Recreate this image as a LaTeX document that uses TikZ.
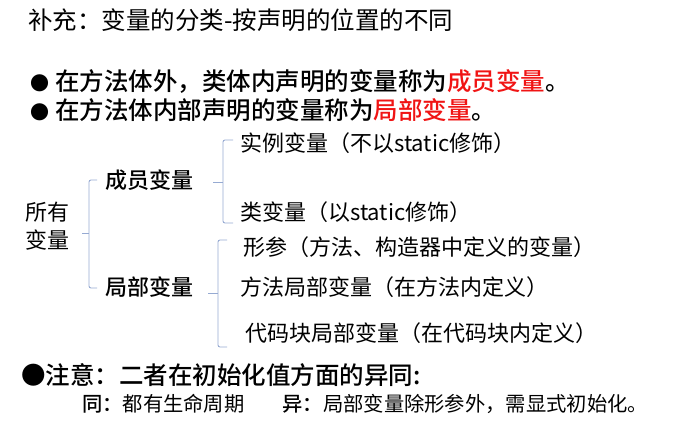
\documentclass[tikz,border=0pt]{standalone}
\usepackage{fontspec}
\setmainfont{Noto Sans CJK SC}[BoldFont={Noto Sans CJK SC Medium}]
\definecolor{braceblue}{RGB}{150,170,210}
\definecolor{keyred}{RGB}{240,20,20}
\begin{document}
\begin{tikzpicture}[x=1pt, y=-1pt,
      every node/.style = {anchor=west, inner sep=0pt},
      head/.style = {font=\fontsize{24.5}{28}\selectfont},
      bold/.style = {font=\fontsize{24.5}{28}\selectfont\bfseries},
      item/.style = {font=\fontsize{22}{28}\selectfont},
      group/.style = {font=\fontsize{22}{28}\selectfont\bfseries},
      foot/.style = {font=\fontsize{20.3}{24}\selectfont},
      brace/.style = {draw=braceblue, line width=0.9pt, rounded corners=2pt}]
  \useasboundingbox (0,0) rectangle (697,430);
  \node[head] (title) at (28,20) {补充：变量的分类-按声明的位置的不同};
  \node[bold] (decl1) at (30,82) {{\fontsize{19}{19}\selectfont●}\hspace{6pt}在方法体外，类体内声明的变量称为\textcolor{keyred}{成员变量}。};
  \node[bold] (decl2) at (30,110) {{\fontsize{19}{19}\selectfont●}\hspace{6pt}在方法体内部声明的变量称为\textcolor{keyred}{局部变量}。};
  \node[item, align=left] (all) at (25,226) {所有\\变量};
  \node[group] (member) at (105,180) {成员变量};
  \node[group] (local) at (105,287) {局部变量};
  \node[item] (inst) at (240,143) {实例变量（不以static修饰）};
  \node[item] (cls) at (240,212) {类变量（以static修饰）};
  \node[item] (param) at (243,247) {形参（方法、构造器中定义的变量）};
  \node[item] (mlocal) at (240,287) {方法局部变量（在方法内定义）};
  \node[item] (block) at (245,333) {代码块局部变量（在代码块内定义）};
  \node[bold] (note) at (21,375) {●注意：二者在初始化值方面的异同:};
  \node[foot] (diff) at (82,404) {\textbf{同：}都有生命周期\hspace{38pt}\textbf{异：}局部变量除形参外，需显式初始化。};
  % brackets
  \draw[brace] (97,180) -- (89,180) -- (89,288) -- (97,288);
  \draw[brace] (82,233) -- (89,233);
  \draw[brace] (233,140) -- (223,140) -- (223,223) -- (233,223);
  \draw[brace] (213,182) -- (223,182);
  \draw[brace] (227,240) -- (218,240) -- (218,347) -- (227,347);
  \draw[brace] (208,293) -- (218,293);
\end{tikzpicture}
\end{document}
